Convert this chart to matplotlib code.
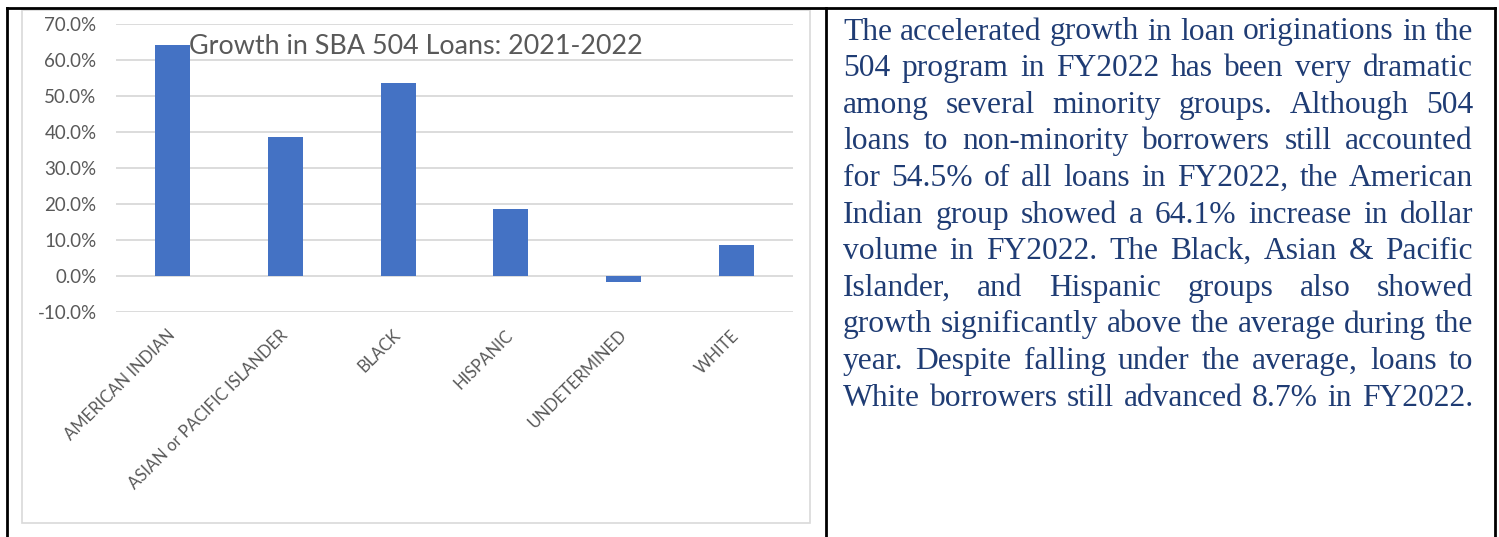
import matplotlib
matplotlib.use("Agg")
import matplotlib.pyplot as plt
from matplotlib.lines import Line2D
from matplotlib.patches import Rectangle
from matplotlib.ticker import FuncFormatter, MultipleLocator

# ---------------------------------------------------------------------------
# Data
# ---------------------------------------------------------------------------
CATEGORIES = [
    "AMERICAN INDIAN",
    "ASIAN or PACIFIC ISLANDER",
    "BLACK",
    "HISPANIC",
    "UNDETERMINED",
    "WHITE",
]
GROWTH_PCT = [64.1, 38.5, 53.7, 18.5, -1.6, 8.7]

TITLE = "Growth in SBA 504 Loans: 2021-2022"

PARAGRAPH_LINES = [
    "The accelerated growth in loan originations in the",
    "504 program in FY2022 has been very dramatic",
    "among several minority groups. Although 504",
    "loans to non-minority borrowers still accounted",
    "for 54.5% of all loans in FY2022, the American",
    "Indian group showed a 64.1% increase in dollar",
    "volume in FY2022. The Black, Asian & Pacific",
    "Islander, and Hispanic groups also showed",
    "growth significantly above the average during the",
    "year. Despite falling under the average, loans to",
    "White borrowers still advanced 8.7% in FY2022.",
]

W_PX, H_PX, DPI = 1499, 537, 100
BAR_COLOR = "#4472C4"
GRID_COLOR = "#D9D9D9"
LABEL_COLOR = "#595959"
TEXT_COLOR = "#1F3C74"
CHART_FONT = "Lato"


def px_x(x):
    return x / W_PX


def px_y(y):
    return 1 - y / H_PX


fig = plt.figure(figsize=(W_PX / DPI, H_PX / DPI), dpi=DPI)
fig.patch.set_facecolor("white")

# --- table borders (black) and chart-area border (light gray) ---
for xs, ys in [((7, 7), (8, 540)), ((7, 1495), (8, 8)), ((826, 826), (8, 540)),
               ((1495, 1495), (8, 540))]:
    fig.add_artist(Line2D([px_x(v) for v in xs], [px_y(v) for v in ys],
                          color="black", lw=2, transform=fig.transFigure))
fig.add_artist(Rectangle((px_x(22), px_y(523)), px_x(810) - px_x(22), px_y(10) - px_y(523),
                         transform=fig.transFigure, fill=False, edgecolor=GRID_COLOR, lw=1.2))

# --- bar chart ---
ax = fig.add_axes([px_x(116), px_y(312), px_x(793) - px_x(116), px_y(24) - px_y(312)])
x = range(len(CATEGORIES))
ax.bar(x, GROWTH_PCT, width=0.31, color=BAR_COLOR, zorder=3)
ax.set_xlim(-0.5, len(CATEGORIES) - 0.5)
ax.set_ylim(-10, 70)
ax.yaxis.set_major_locator(MultipleLocator(10))
ax.yaxis.set_major_formatter(FuncFormatter(lambda v, _: f"{v:.1f}%"))
ax.grid(axis="y", color=GRID_COLOR, lw=1.3, zorder=0)
ax.set_axisbelow(True)
for s in ax.spines.values():
    s.set_visible(False)
ax.tick_params(length=0, labelcolor=LABEL_COLOR)
ax.tick_params(axis="y", pad=14, labelsize=13.5)
ax.set_xticks(list(x))
ax.set_xticklabels(CATEGORIES, rotation=45, ha="right", va="center",
                   rotation_mode="anchor", fontsize=12, family=CHART_FONT)
ax.tick_params(axis="x", pad=15)
for lab in ax.get_yticklabels():
    lab.set_family(CHART_FONT)

fig.text(px_x(416), px_y(47), TITLE, ha="center", va="center", fontsize=19.4,
         color=LABEL_COLOR, family=CHART_FONT)

# --- justified paragraph on the right ---
left, right = 843, 1473
first_y, line_step = 32, 36.6
renderer = fig.canvas.get_renderer()
probe = fig.text(0, 0, PARAGRAPH_LINES[8], fontsize=20, family="Liberation Serif")
natural = probe.get_window_extent(renderer).width
probe.remove()
fs = 20 * (right - left) / natural * 0.995

for i, line in enumerate(PARAGRAPH_LINES):
    y = px_y(first_y + i * line_step)
    words = line.split()
    arts = [fig.text(0, y, w, fontsize=fs, family="Liberation Serif",
                     color=TEXT_COLOR, va="center", ha="left") for w in words]
    widths = [a.get_window_extent(renderer).width for a in arts]
    gap = (right - left - sum(widths)) / (len(words) - 1)
    cur = left
    for a, w in zip(arts, widths):
        a.set_x(px_x(cur))
        cur += w + gap

fig.savefig("out.png", dpi=DPI)
